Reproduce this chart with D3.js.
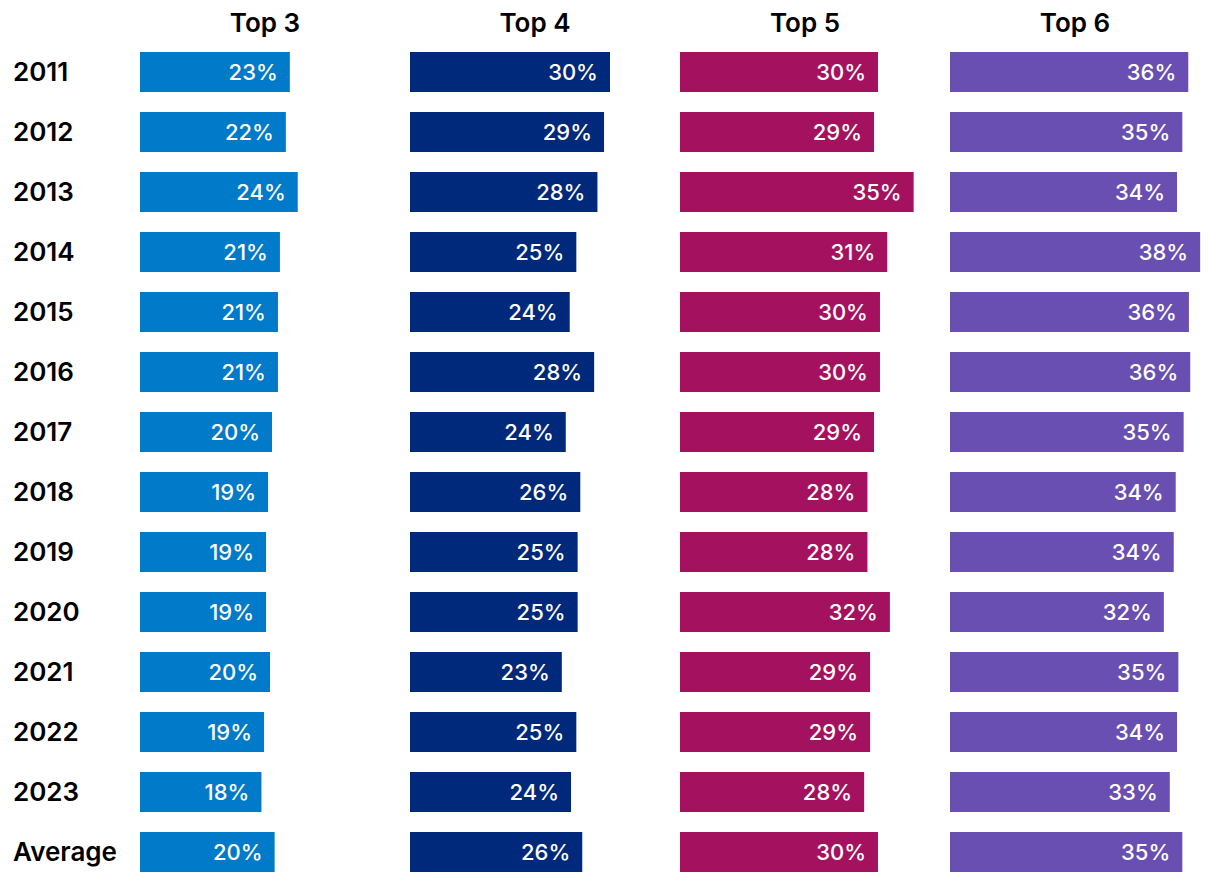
<!DOCTYPE html>
<html>
<head>
<meta charset="utf-8">
<script src="https://cdn.jsdelivr.net/npm/d3@7"></script>
<style>
  html, body { margin: 0; padding: 0; background: #fff; }
  svg { display: block; }
  text { font-family: Inter, "Noto Sans", sans-serif; }
</style>
</head>
<body>
<svg id="chart" width="1220" height="886"></svg>
<script>
const rows = ["2011","2012","2013","2014","2015","2016","2017","2018","2019","2020","2021","2022","2023","Average"];
const seriesNames = ["Top 3","Top 4","Top 5","Top 6"];
const top3 = [0.227,0.221,0.239,0.212,0.209,0.209,0.200,0.194,0.191,0.191,0.197,0.188,0.184,0.204];
const top4 = [0.303,0.294,0.284,0.252,0.242,0.279,0.236,0.258,0.254,0.254,0.230,0.252,0.244,0.261];
const top5 = [0.300,0.294,0.354,0.314,0.303,0.303,0.294,0.284,0.284,0.318,0.288,0.288,0.279,0.300];
const top6 = [0.361,0.352,0.344,0.379,0.362,0.364,0.354,0.342,0.339,0.324,0.346,0.344,0.333,0.352];
const colors = ["#007AC9","#00287B","#A4125F","#694FB1"];

const seriesValues = [top3, top4, top5, top6];

const svg = d3.select("#chart");

const panel = d3.scaleBand().domain(seriesNames).range([140, 1220]);
const x = d3.scaleLinear().domain([0, 0.40]).range([0, 264]);
const y = d3.scaleBand().domain(rows).range([42, 882]).paddingInner(1/3).paddingOuter(1/6);
const fmt = d3.format(".0%");

// Row labels
svg.append("g").selectAll("text").data(rows).join("text")
  .attr("x", 13)
  .attr("y", d => y(d) + y.bandwidth()/2)
  .attr("dy", "0.36em")
  .attr("font-size", 26)
  .attr("font-weight", 600)
  .attr("fill", "#000")
  .text(d => d);

seriesNames.forEach((name, i) => {
  const g = svg.append("g").attr("transform", `translate(${panel(name)},0)`);
  g.append("text")
    .attr("x", 125)
    .attr("y", 32)
    .attr("text-anchor", "middle")
    .attr("font-size", 26)
    .attr("font-weight", 600)
    .attr("fill", "#000")
    .text(name);

  const data = rows.map((r, j) => ({row: r, v: seriesValues[i][j]}));
  g.selectAll("rect").data(data).join("rect")
    .attr("x", 0)
    .attr("y", d => y(d.row))
    .attr("width", d => x(d.v))
    .attr("height", y.bandwidth())
    .attr("fill", colors[i]);

  g.selectAll("text.val").data(data).join("text")
    .attr("class", "val")
    .attr("x", d => x(d.v) - 12)
    .attr("y", d => y(d.row) + y.bandwidth()/2)
    .attr("dy", "0.36em")
    .attr("text-anchor", "end")
    .attr("font-size", 22)
    .attr("font-weight", 500)
    .attr("fill", "#fff")
    .text(d => fmt(d.v));
});
</script>
</body>
</html>
